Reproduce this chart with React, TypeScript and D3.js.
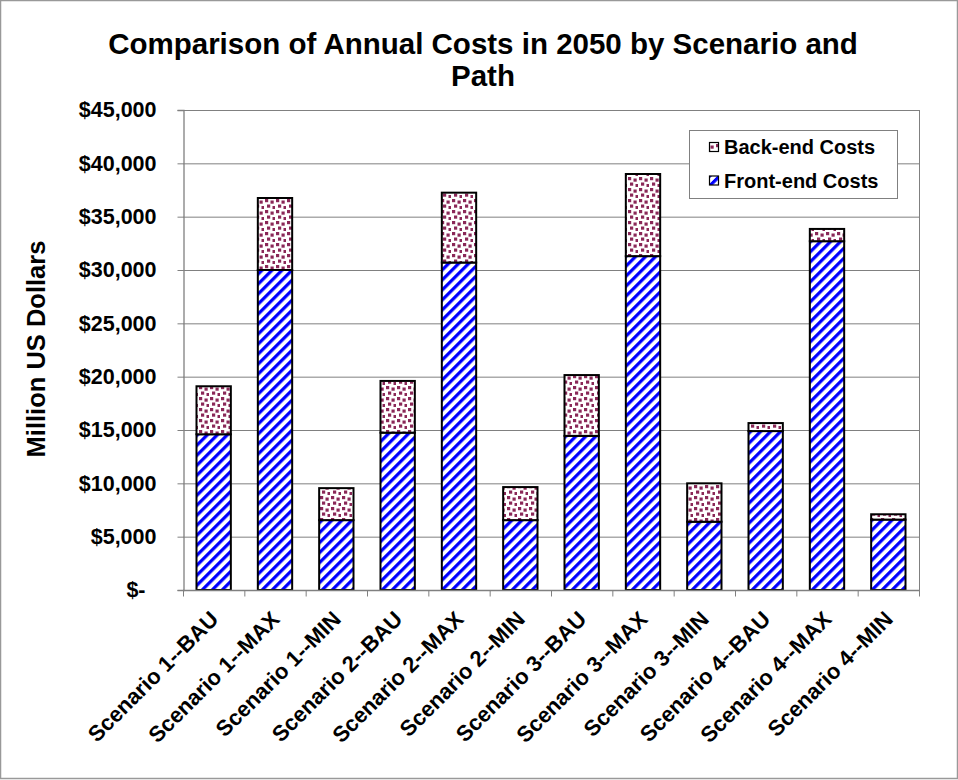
import React, { useEffect, useRef } from 'react';
import * as d3 from 'd3';

const categories = [
  'Scenario 1--BAU',
  'Scenario 1--MAX',
  'Scenario 1--MIN',
  'Scenario 2--BAU',
  'Scenario 2--MAX',
  'Scenario 2--MIN',
  'Scenario 3--BAU',
  'Scenario 3--MAX',
  'Scenario 3--MIN',
  'Scenario 4--BAU',
  'Scenario 4--MAX',
  'Scenario 4--MIN',
];
// million US dollars
const frontEnd = [14600, 30000, 6550, 14750, 30700, 6550, 14450, 31300, 6400, 14900, 32700, 6600];
const backEnd = [4500, 6750, 3000, 4850, 6550, 3100, 5700, 7700, 3600, 750, 1150, 500];
const seriesNames = ['Back-end Costs', 'Front-end Costs'];
const yTicks = [0, 5000, 10000, 15000, 20000, 25000, 30000, 35000, 40000, 45000];
const titleLines = ['Comparison of Annual Costs in 2050 by Scenario and', 'Path'];
const yTitle = 'Million US Dollars';

export default function App() {
  const ref = useRef<SVGSVGElement>(null);

  useEffect(() => {
    document.body.style.margin = '0';
    const svg = d3.select(ref.current);
    svg.selectAll('*').remove();

    const font = 'Arial, "Liberation Sans", sans-serif';
    const left = 183;
    const right = 919;
    const top = 110;
    const bottom = 590;

    const defs = svg.append('defs');
    const stripes = defs
      .append('pattern')
      .attr('id', 'stripes')
      .attr('patternUnits', 'userSpaceOnUse')
      .attr('width', 7.07)
      .attr('height', 7.07)
      .attr('patternTransform', 'rotate(45)');
    stripes.append('rect').attr('width', 7.07).attr('height', 7.07).attr('fill', '#fff');
    stripes.append('rect').attr('width', 3.2).attr('height', 7.07).attr('fill', '#0000ff');

    const confetti = defs
      .append('pattern')
      .attr('id', 'confetti')
      .attr('patternUnits', 'userSpaceOnUse')
      .attr('width', 11)
      .attr('height', 11);
    confetti.append('rect').attr('width', 11).attr('height', 11).attr('fill', '#fff');
    [[1, 1], [6.5, 2.5], [3, 6.5], [8.5, 8]].forEach(([cx, cy]) => {
      confetti
        .append('rect')
        .attr('x', cx)
        .attr('y', cy)
        .attr('width', 3.2)
        .attr('height', 3.2)
        .attr('fill', '#8a2858');
    });

    // outer chart border
    svg
      .append('rect')
      .attr('x', 0.5)
      .attr('y', 0.5)
      .attr('width', 957)
      .attr('height', 778)
      .attr('fill', '#fff')
      .attr('stroke', '#999')
      .attr('stroke-width', 1.5);

    const x = d3.scaleBand().domain(categories).range([left, right]).paddingInner(0.44).paddingOuter(0.22);
    const y = d3.scaleLinear().domain([0, 45000]).range([bottom, top]);

    // gridlines
    svg
      .append('g')
      .selectAll('line')
      .data(yTicks.filter(d => d > 0))
      .enter()
      .append('line')
      .attr('x1', left)
      .attr('x2', right)
      .attr('y1', d => y(d) + 0.5)
      .attr('y2', d => y(d) + 0.5)
      .attr('stroke', '#808080')
      .attr('stroke-width', 1);

    // plot area border (right side)
    svg
      .append('line')
      .attr('x1', right + 0.5)
      .attr('x2', right + 0.5)
      .attr('y1', top)
      .attr('y2', bottom)
      .attr('stroke', '#808080');

    // bars
    const table = categories.map((c, i) => ({ cat: c, front: frontEnd[i], back: backEnd[i] }));
    const stack = d3.stack<any>().keys(['front', 'back'])(table);
    const fills: Record<string, string> = { front: 'url(#stripes)', back: 'url(#confetti)' };
    svg
      .append('g')
      .selectAll('g')
      .data(stack)
      .enter()
      .append('g')
      .attr('fill', d => fills[d.key])
      .selectAll('rect')
      .data(d => d)
      .enter()
      .append('rect')
      .attr('x', d => x(d.data.cat)!)
      .attr('width', x.bandwidth())
      .attr('y', d => y(d[1]))
      .attr('height', d => y(d[0]) - y(d[1]))
      .attr('stroke', '#000')
      .attr('stroke-width', 2);

    // y axis
    const yAxis = svg
      .append('g')
      .attr('transform', `translate(${left + 0.5},0)`)
      .call(
        d3
          .axisLeft(y)
          .tickValues(yTicks)
          .tickSize(6)
          .tickPadding(21)
          .tickFormat(d => (d === 0 ? '$-' : d3.format('$,')(d as number)))
      );
    yAxis.select('.domain').attr('stroke', '#808080').attr('stroke-width', 1.3);
    yAxis.selectAll('.tick line').attr('stroke', '#808080');
    yAxis
      .selectAll('.tick text')
      .attr('font-family', font)
      .attr('font-size', 21.5)
      .attr('font-weight', 'bold')
      .attr('fill', '#000')
      .attr('dx', d => (d === 0 ? -11 : 0));

    // x axis
    const xAxis = svg
      .append('g')
      .attr('transform', `translate(0,${bottom + 0.5})`)
      .call(d3.axisBottom(x).tickSize(0).tickPadding(0));
    xAxis.select('.domain').remove();
    xAxis
      .append('line')
      .attr('x1', left)
      .attr('x2', right + 1)
      .attr('stroke', '#808080')
      .attr('stroke-width', 1.3);
    xAxis
      .selectAll('line.bound')
      .data(d3.range(categories.length + 1))
      .enter()
      .append('line')
      .attr('class', 'bound')
      .attr('x1', i => left + i * x.step() + 0.5)
      .attr('x2', i => left + i * x.step() + 0.5)
      .attr('y1', 0)
      .attr('y2', 6)
      .attr('stroke', '#808080');
    xAxis
      .selectAll('.tick text')
      .attr('font-family', font)
      .attr('font-size', 22)
      .attr('font-weight', 'bold')
      .attr('fill', '#000')
      .attr('text-anchor', 'end')
      .attr('y', 0)
      .attr('dy', 0)
      .attr('transform', 'translate(6,30) rotate(-45)');

    // title
    svg
      .append('text')
      .attr('x', 483)
      .attr('y', 54)
      .attr('text-anchor', 'middle')
      .attr('font-family', font)
      .attr('font-size', 29.5)
      .attr('font-weight', 'bold')
      .selectAll('tspan')
      .data(titleLines)
      .enter()
      .append('tspan')
      .attr('x', 483)
      .attr('dy', (d, i) => (i === 0 ? 0 : 32))
      .text(d => d);

    svg
      .append('text')
      .attr('transform', 'translate(45,349) rotate(-90)')
      .attr('text-anchor', 'middle')
      .attr('font-family', font)
      .attr('font-size', 25.5)
      .attr('font-weight', 'bold')
      .text(yTitle);

    // legend
    const legend = svg.append('g');
    legend
      .append('rect')
      .attr('x', 689.5)
      .attr('y', 130.5)
      .attr('width', 208)
      .attr('height', 68)
      .attr('fill', '#fff')
      .attr('stroke', '#808080');
    const legendFills = ['url(#confetti)', 'url(#stripes)'];
    const items = legend
      .selectAll('g.item')
      .data(seriesNames)
      .enter()
      .append('g')
      .attr('class', 'item')
      .attr('transform', (d, i) => `translate(0,${i * 33.5})`);
    items
      .append('rect')
      .attr('x', 709.5)
      .attr('y', 142.5)
      .attr('width', 9)
      .attr('height', 9)
      .attr('fill', (d, i) => legendFills[i])
      .attr('stroke', '#000')
      .attr('stroke-width', 1.2);
    items
      .append('text')
      .attr('x', 724)
      .attr('y', 154)
      .attr('font-family', font)
      .attr('font-size', 20)
      .attr('font-weight', 'bold')
      .text(d => d);
  }, []);

  return <svg ref={ref} width={958} height={780} style={{ position: 'absolute', left: 0, top: 0, background: '#fff' }} />;
}
